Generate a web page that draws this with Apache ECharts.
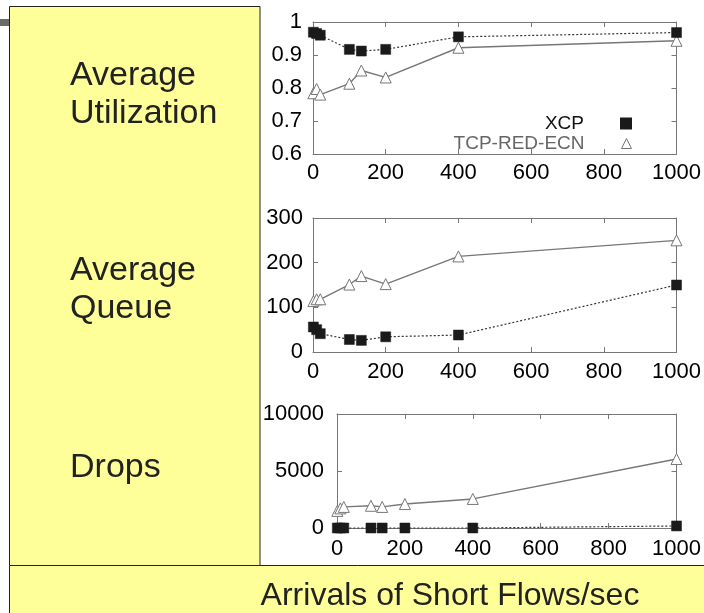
<!DOCTYPE html>
<html>
<head>
<meta charset="utf-8">
<script src="https://cdn.jsdelivr.net/npm/echarts@6/dist/echarts.min.js"></script>
<style>
  html, body { margin: 0; padding: 0; background: #fff; }
  #chart { width: 704px; height: 613px; }
</style>
</head>
<body>
<div id="chart"></div>
<script>
// ---- data ----
const arrivals = [1, 10, 20, 100, 133, 200, 400, 1000];
const xTicks = [0, 200, 400, 600, 800, 1000];

const utilXCP = [0.969, 0.965, 0.960, 0.917, 0.912, 0.917, 0.955, 0.968];
const utilTCP = [0.784, 0.797, 0.780, 0.813, 0.853, 0.832, 0.922, 0.943];

const queueXCP = [56, 50, 41, 28, 26, 34, 38, 150];
const queueTCP = [114, 118, 118, 151, 170, 152, 214, 250];

const dropsXCP = [0, 0, 0, 0, 0, 0, 0, 180];
const dropsTCP = [1500, 1720, 1850, 1950, 1850, 2100, 2550, 6050];

const panelLabels = ['Average\nUtilization', 'Average\nQueue', 'Drops'];
const xAxisTitle = 'Arrivals of Short Flows/sec';
const seriesNames = ['XCP', 'TCP-RED-ECN'];

// ---- chart ----
const FONT = '"Liberation Sans", Arial, Helvetica, sans-serif';
const chart = echarts.init(document.getElementById('chart'), null, { renderer: 'canvas' });

const grids = [
  { left: 313, top: 22, width: 365, height: 132 },
  { left: 313, top: 218, width: 365, height: 134 },
  { left: 337, top: 414, width: 341, height: 114 }
];
const yRanges = [
  { min: 0.6, max: 1, interval: 0.1, margin: 11 },
  { min: 0, max: 300, interval: 100, margin: 10 },
  { min: 0, max: 10000, interval: 5000, margin: 13 }
];
const xMargins = [8, 9, 10];

const frame = { lineStyle: { color: '#777', width: 1 } };
const tick = { show: true, inside: true, length: 5, lineStyle: { color: '#777', width: 1 } };
const fmt = (v) => String(Math.round(v * 1000) / 1000);
const labelStyle = { color: '#000', fontSize: 22, fontFamily: FONT, formatter: fmt };

const xAxes = [], yAxes = [];
grids.forEach((g, i) => {
  xAxes.push({
    type: 'value', gridIndex: i, min: 0, max: 1000, interval: 200, position: 'bottom',
    axisLine: Object.assign({ show: true, onZero: false }, frame),
    axisTick: tick, splitLine: { show: false },
    axisLabel: Object.assign({ margin: xMargins[i] }, labelStyle)
  });
  xAxes.push({
    type: 'value', gridIndex: i, min: 0, max: 1000, interval: 200, position: 'top',
    axisLine: Object.assign({ show: true, onZero: false }, frame),
    axisTick: tick, splitLine: { show: false }, axisLabel: { show: false }
  });
  const r = yRanges[i];
  yAxes.push({
    type: 'value', gridIndex: i, min: r.min, max: r.max, interval: r.interval, position: 'left',
    axisLine: Object.assign({ show: true, onZero: false }, frame),
    axisTick: tick, splitLine: { show: false },
    axisLabel: Object.assign({ margin: r.margin }, labelStyle)
  });
  yAxes.push({
    type: 'value', gridIndex: i, min: r.min, max: r.max, interval: r.interval, position: 'right',
    axisLine: Object.assign({ show: true, onZero: false }, frame),
    axisTick: tick, splitLine: { show: false }, axisLabel: { show: false }
  });
});

const pairs = (ys) => arrivals.map((x, k) => [x, ys[k]]);
const xcpStyle = {
  symbol: 'rect', symbolSize: 10,
  itemStyle: { color: '#1a1a1a', borderColor: '#1a1a1a', borderWidth: 0.5 },
  lineStyle: { color: '#333', width: 1.2, type: [2, 2] }
};
const tcpStyle = {
  symbol: 'triangle', symbolSize: 11,
  itemStyle: { color: '#ffffff', borderColor: '#777', borderWidth: 1 },
  lineStyle: { color: '#777', width: 1.4, type: 'solid' }
};
const dataSets = [[utilXCP, utilTCP], [queueXCP, queueTCP], [dropsXCP, dropsTCP]];
const series = [];
dataSets.forEach((ds, i) => {
  series.push(Object.assign({
    type: 'line', name: seriesNames[1], xAxisIndex: 2 * i, yAxisIndex: 2 * i,
    data: pairs(ds[1]), showSymbol: true, clip: false, z: 3
  }, tcpStyle));
  series.push(Object.assign({
    type: 'line', name: seriesNames[0], xAxisIndex: 2 * i, yAxisIndex: 2 * i,
    data: pairs(ds[0]), showSymbol: true, clip: false, z: 4
  }, xcpStyle));
});

const legendCommon = {
  orient: 'vertical', align: 'right', right: 67, itemWidth: 10, itemHeight: 10,
  selectedMode: false,
  textStyle: { fontSize: 19, fontFamily: FONT, padding: [0, 32, 0, 0] }
};

const panelTextStyle = { fill: '#222', fontSize: 34, fontFamily: FONT, lineHeight: 38 };

option = {
  animation: false,
  backgroundColor: '#ffffff',
  grid: grids,
  xAxis: xAxes,
  yAxis: yAxes,
  series: series,
  legend: [
    Object.assign({}, legendCommon, {
      top: 109,
      data: [{ name: seriesNames[0], icon: 'rect', itemStyle: { color: '#1a1a1a' }, textStyle: { color: '#111' } }]
    }),
    Object.assign({}, legendCommon, {
      top: 129,
      data: [{ name: seriesNames[1], icon: 'triangle', itemStyle: { color: '#fff', borderColor: '#777', borderWidth: 1 }, textStyle: { color: '#666' } }]
    })
  ],
  graphic: [
    { type: 'rect', z: -10, shape: { x: 0, y: 19, width: 9, height: 7 }, style: { fill: '#6a6a6a' } },
    { type: 'rect', z: -10, shape: { x: 9.5, y: 6.5, width: 250.5, height: 559 }, style: { fill: '#ffff99', stroke: '#222', lineWidth: 1 } },
    { type: 'rect', z: -10, shape: { x: 9.5, y: 565.5, width: 720, height: 80 }, style: { fill: '#ffff99', stroke: '#222', lineWidth: 1 } },
    { type: 'text', z: 10, x: 70, y: 57, style: Object.assign({ text: panelLabels[0], verticalAlign: 'top' }, panelTextStyle) },
    { type: 'text', z: 10, x: 70, y: 252, style: Object.assign({ text: panelLabels[1], verticalAlign: 'top' }, panelTextStyle) },
    { type: 'text', z: 10, x: 70, y: 449, style: Object.assign({ text: panelLabels[2], verticalAlign: 'top' }, panelTextStyle) },
    { type: 'text', z: 10, x: 450, y: 596, style: Object.assign({ text: xAxisTitle, align: 'center', verticalAlign: 'middle' }, panelTextStyle, { fontSize: 32 }) }
  ]
};
chart.setOption(option);
</script>
</body>
</html>
